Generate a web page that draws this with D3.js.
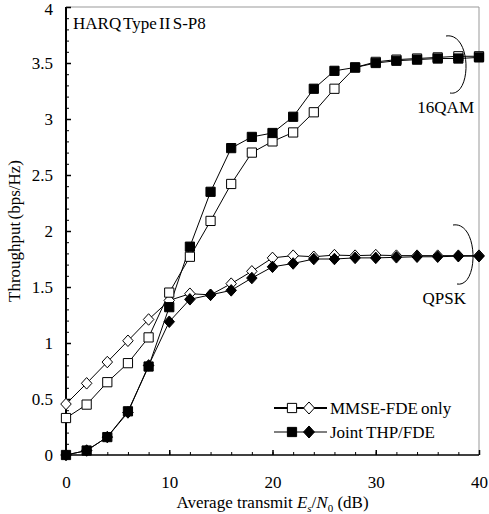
<!DOCTYPE html>
<html>
<head>
<meta charset="utf-8">
<script src="https://cdn.jsdelivr.net/npm/d3@7"></script>
<style>
  html, body { margin: 0; padding: 0; background: #fff; }
  svg { display: block; font-family: "Liberation Serif", "Times New Roman", serif; }
</style>
</head>
<body>
<svg id="chart" width="489" height="514"></svg>
<script>
// ---- data ----
const snr = [0, 2, 4, 6, 8, 10, 12, 14, 16, 18, 20, 22, 24, 26, 28, 30, 32, 34, 36, 38, 40];
const mmse16QAM = [0.33, 0.45, 0.65, 0.82, 1.05, 1.45, 1.77, 2.09, 2.42, 2.70, 2.80, 2.88, 3.06, 3.27, 3.46, 3.51, 3.53, 3.54, 3.55, 3.56, 3.56];
const joint16QAM = [0.00, 0.04, 0.16, 0.39, 0.79, 1.32, 1.86, 2.35, 2.74, 2.84, 2.875, 3.02, 3.27, 3.43, 3.46, 3.50, 3.52, 3.53, 3.54, 3.54, 3.55];
const mmseQPSK = [0.455, 0.64, 0.83, 1.02, 1.21, 1.38, 1.44, 1.43, 1.53, 1.64, 1.76, 1.78, 1.77, 1.785, 1.78, 1.785, 1.78, 1.78, 1.78, 1.78, 1.78];
const jointQPSK = [0.00, 0.04, 0.16, 0.38, 0.80, 1.19, 1.39, 1.43, 1.47, 1.58, 1.68, 1.71, 1.75, 1.75, 1.76, 1.76, 1.765, 1.77, 1.77, 1.775, 1.775];
const xTickLabels = [0, 10, 20, 30, 40];
const yTickLabels = [0, 0.5, 1, 1.5, 2, 2.5, 3, 3.5, 4];
const legendLabels = ["MMSE-FDE only", "Joint THP/FDE"];
const titleText = "HARQ Type II S-P8";

// ---- layout ----
const svg = d3.select("#chart");
const pL = 66, pR = 479, pT = 7, pB = 455;
const x = d3.scaleLinear().domain([0, 40]).range([pL, pR]);
const y = d3.scaleLinear().domain([0, 4]).range([pB, pT]);
const FS = 17;

// frame (top & right, gray)
svg.append("line").attr("x1", pL).attr("x2", pR).attr("y1", pT).attr("y2", pT)
  .attr("stroke", "#999").attr("stroke-width", 1);
svg.append("line").attr("x1", pR).attr("x2", pR).attr("y1", pT).attr("y2", pB)
  .attr("stroke", "#999").attr("stroke-width", 1);

// y axis
const gy1 = svg.append("g").attr("transform", `translate(${pL},0)`)
  .call(d3.axisRight(y).tickValues(d3.range(0, 41).map(d => d / 10)).tickSize(3).tickFormat(""));
gy1.select(".domain").remove();
gy1.selectAll("line").attr("stroke", "#000").attr("stroke-width", 1);
const gyM = svg.append("g").attr("transform", `translate(${pL},0)`)
  .call(d3.axisRight(y).tickValues(yTickLabels).tickSize(5).tickFormat(""));
gyM.select(".domain").remove();
gyM.selectAll("line").attr("stroke", "#000").attr("stroke-width", 1.5);
const gy2 = svg.append("g").attr("transform", `translate(${pL},0)`)
  .call(d3.axisLeft(y).tickValues(yTickLabels).tickSize(0).tickPadding(13).tickFormat(d3.format("")));
gy2.select(".domain").remove();
gy2.selectAll("text").attr("font-family", "Liberation Serif").attr("font-size", FS).attr("fill", "#000")
  .attr("dy", d => d === 4 ? "0.42em" : "0.32em");

// x axis
const gx1 = svg.append("g").attr("transform", `translate(0,${pB})`)
  .call(d3.axisTop(x).tickValues(snr).tickSize(3).tickFormat(""));
gx1.select(".domain").remove();
gx1.selectAll("line").attr("stroke", "#000").attr("stroke-width", 1);
const gxM = svg.append("g").attr("transform", `translate(0,${pB})`)
  .call(d3.axisTop(x).tickValues(xTickLabels).tickSize(5).tickFormat(""));
gxM.select(".domain").remove();
gxM.selectAll("line").attr("stroke", "#000").attr("stroke-width", 1.5);
const gx2 = svg.append("g").attr("transform", `translate(0,${pB})`)
  .call(d3.axisBottom(x).tickValues(xTickLabels).tickSize(0).tickPadding(21).tickFormat(d3.format("")));
gx2.select(".domain").remove();
gx2.selectAll("text").attr("font-family", "Liberation Serif").attr("font-size", FS).attr("fill", "#000");

// axis lines (black)
svg.append("line").attr("x1", pL).attr("x2", pL).attr("y1", pT).attr("y2", pB)
  .attr("stroke", "#000").attr("stroke-width", 2);
svg.append("line").attr("x1", pL).attr("x2", pR).attr("y1", pB).attr("y2", pB)
  .attr("stroke", "#000").attr("stroke-width", 1.5);

// custom marker shapes
const diamondType = {
  draw(ctx, size) {
    const w = Math.sqrt(size) / 2, h = w * 1.1;
    ctx.moveTo(0, -h); ctx.lineTo(w, 0); ctx.lineTo(0, h); ctx.lineTo(-w, 0); ctx.closePath();
  }
};

// series
const series = [
  { vals: mmseQPSK, marker: "diamond", fill: "#fff" },
  { vals: mmse16QAM, marker: "square", fill: "#fff" },
  { vals: joint16QAM, marker: "square", fill: "#000" },
  { vals: jointQPSK, marker: "diamond", fill: "#000" }
];
const line = d3.line().x((d, i) => x(snr[i])).y(d => y(d));
const sq = d3.symbol().type(d3.symbolSquare).size(85)();
const dia = d3.symbol().type(diamondType).size(110)();

series.forEach(s => {
  svg.append("path").datum(s.vals).attr("d", line)
    .attr("fill", "none").attr("stroke", "#000").attr("stroke-width", 1);
});
series.forEach(s => {
  svg.append("g").selectAll("path").data(s.vals).join("path")
    .attr("d", s.marker === "square" ? sq : dia)
    .attr("transform", (d, i) => `translate(${x(snr[i])},${y(d)})`)
    .attr("fill", s.fill).attr("stroke", "#000").attr("stroke-width", 1);
});

// title
svg.append("text").attr("x", 73).attr("y", 29).attr("font-size", FS)
  .attr("word-spacing", -2).text(titleText);

// annotations: arcs and labels
function arc(x0, y0, xr, y1) {
  return `M${x0},${y0} C${xr + 6},${y0 - 4} ${xr + 6},${y1 + 4} ${x0 + 4},${y1}`;
}
svg.append("path").attr("d", arc(446, 36, 466, 93)).attr("fill", "none").attr("stroke", "#000").attr("stroke-width", 1);
svg.append("text").attr("x", 474).attr("y", 113).attr("text-anchor", "end").attr("font-size", FS).text("16QAM");
svg.append("path").attr("d", arc(453, 225, 473, 284)).attr("fill", "none").attr("stroke", "#000").attr("stroke-width", 1);
svg.append("text").attr("x", 466).attr("y", 304).attr("text-anchor", "end").attr("font-size", FS).text("QPSK");

// legend
const legend = [
  { label: legendLabels[0], fill: "#fff", y: 408 },
  { label: legendLabels[1], fill: "#000", y: 432 }
];
legend.forEach(l => {
  svg.append("line").attr("x1", 274).attr("x2", 327).attr("y1", l.y).attr("y2", l.y)
    .attr("stroke", "#000").attr("stroke-width", l.fill === "#fff" ? 2 : 1.2);
  svg.append("path").attr("d", sq).attr("transform", `translate(292,${l.y})`)
    .attr("fill", l.fill).attr("stroke", "#000").attr("stroke-width", 1);
  svg.append("path").attr("d", d3.symbol().type(diamondType).size(120)())
    .attr("transform", `translate(309,${l.y})`)
    .attr("fill", l.fill).attr("stroke", "#000").attr("stroke-width", 1);
  svg.append("text").attr("x", 330).attr("y", l.y + 6).attr("font-size", FS)
    .attr("word-spacing", -1).text(l.label);
});

// axis titles
svg.append("text").attr("transform", `translate(20,${(pT + pB) / 2}) rotate(-90)`)
  .attr("text-anchor", "middle").attr("font-size", FS).attr("word-spacing", -2)
  .text("Throughput (bps/Hz)");
const xl = svg.append("text").attr("x", (pL + pR) / 2).attr("y", 508)
  .attr("text-anchor", "middle").attr("font-size", FS);
xl.append("tspan").text("Average transmit ");
xl.append("tspan").attr("font-style", "italic").text("E");
xl.append("tspan").attr("font-size", 11).attr("dy", 4).attr("font-style", "italic").text("s");
xl.append("tspan").attr("dy", -4).text("/");
xl.append("tspan").attr("font-style", "italic").text("N");
xl.append("tspan").attr("font-size", 11).attr("dy", 4).text("0");
xl.append("tspan").attr("dy", -4).text(" (dB)");
</script>
</body>
</html>
